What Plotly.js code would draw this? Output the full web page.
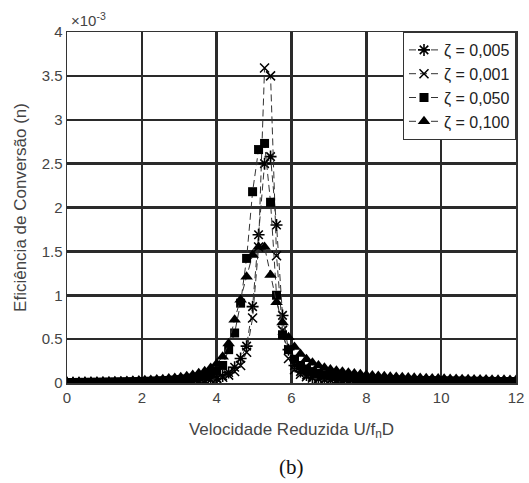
<!DOCTYPE html>
<html><head><meta charset="utf-8">
<script src="https://cdn.plot.ly/plotly-3.0.1.min.js"></script>
<style>html,body{margin:0;padding:0;background:#fff}#chart{width:529px;height:483px}</style>
</head><body><div id="chart"></div>
<script>
// Reduced velocity U/(fn D)
const xVals = [0,0.16,0.32,0.48,0.64,0.8,0.96,1.12,1.28,1.44,1.6,1.76,1.92,2.08,2.24,2.4,2.56,2.72,2.88,3.04,3.2,3.36,3.52,3.68,3.84,4,4.16,4.32,4.48,4.64,4.8,4.96,5.12,5.28,5.44,5.6,5.76,5.92,6.08,6.24,6.4,6.56,6.72,6.88,7.04,7.2,7.36,7.52,7.68,7.84,8,8.16,8.32,8.48,8.64,8.8,8.96,9.12,9.28,9.44,9.6,9.76,9.92,10.08,10.24,10.4,10.56,10.72,10.88,11.04,11.2,11.36,11.52,11.68,11.84,12];

// Efficiency values in units of 1e-3
const eta005 = [0.002,0.002,0.002,0.002,0.003,0.003,0.003,0.003,0.004,0.004,0.004,0.005,0.005,0.006,0.007,0.008,0.009,0.01,0.012,0.014,0.017,0.02,0.025,0.031,0.04,0.053,0.08,0.12,0.18,0.28,0.42,0.87,1.69,2.5,2.58,1.8,0.77,0.38,0.2,0.13,0.09,0.067,0.052,0.042,0.035,0.03,0.026,0.022,0.02,0.018,0.016,0.015,0.014,0.013,0.012,0.012,0.011,0.011,0.01,0.01,0.009,0.009,0.009,0.008,0.008,0.008,0.008,0.007,0.007,0.007,0.007,0.007,0.006,0.006,0.006,0.006];
const eta001 = [0.001,0.001,0.001,0.002,0.002,0.002,0.002,0.003,0.003,0.003,0.004,0.004,0.005,0.005,0.006,0.007,0.008,0.009,0.011,0.013,0.016,0.019,0.023,0.029,0.037,0.05,0.065,0.09,0.13,0.2,0.35,0.74,1.55,3.59,3.5,1.45,0.6,0.28,0.15,0.1,0.072,0.056,0.045,0.037,0.031,0.027,0.023,0.02,0.018,0.016,0.015,0.014,0.013,0.012,0.011,0.011,0.01,0.01,0.009,0.009,0.008,0.008,0.008,0.007,0.007,0.007,0.007,0.006,0.006,0.006,0.006,0.006,0.005,0.005,0.005,0.005];
const eta050 = [0.006,0.006,0.007,0.007,0.008,0.008,0.009,0.01,0.011,0.012,0.013,0.014,0.016,0.018,0.02,0.022,0.025,0.029,0.033,0.039,0.046,0.055,0.067,0.083,0.105,0.14,0.2,0.38,0.57,0.91,1.42,2.18,2.66,2.73,2.06,1.0,0.55,0.38,0.27,0.2,0.16,0.13,0.11,0.095,0.083,0.074,0.066,0.06,0.055,0.05,0.046,0.043,0.04,0.037,0.035,0.033,0.031,0.03,0.028,0.027,0.026,0.025,0.024,0.023,0.022,0.021,0.021,0.02,0.019,0.019,0.018,0.018,0.017,0.017,0.016,0.016];
const eta100 = [0.01,0.011,0.012,0.013,0.014,0.015,0.016,0.018,0.019,0.021,0.023,0.025,0.028,0.031,0.035,0.039,0.044,0.05,0.057,0.066,0.077,0.091,0.11,0.135,0.17,0.22,0.3,0.45,0.72,0.95,1.21,1.46,1.55,1.55,1.23,0.92,0.69,0.52,0.41,0.33,0.27,0.23,0.2,0.175,0.155,0.14,0.127,0.116,0.107,0.099,0.092,0.086,0.081,0.076,0.072,0.068,0.065,0.062,0.059,0.056,0.054,0.052,0.05,0.048,0.046,0.045,0.043,0.042,0.041,0.04,0.039,0.038,0.037,0.036,0.035,0.034];

const seriesNames = ['ζ = 0,005','ζ = 0,001','ζ = 0,050','ζ = 0,100'];
const yTickVals = [0,0.5,1,1.5,2,2.5,3,3.5,4];
const yTickText = ['0','0.5','1','1.5','2','2.5','3','3.5','4'];
const xTickVals = [0,2,4,6,8,10,12];

const lineStyle = {color:'#333', width:1, dash:'7px,4px'};
const traces = [
  {x:xVals, y:eta005, name:seriesNames[0], mode:'lines+markers', line:lineStyle,
   marker:{symbol:'asterisk-open', size:10, color:'#000', line:{color:'#000', width:1.6}}},
  {x:xVals, y:eta001, name:seriesNames[1], mode:'lines+markers', line:lineStyle,
   marker:{symbol:'x-thin-open', size:9, color:'#000', line:{color:'#000', width:1.5}}},
  {x:xVals, y:eta050, name:seriesNames[2], mode:'lines+markers', line:lineStyle,
   marker:{symbol:'square', size:9, color:'#000'}},
  {x:xVals, y:eta100, name:seriesNames[3], mode:'lines+markers', line:lineStyle,
   marker:{symbol:'triangle-up', size:11, color:'#000'}}
];

const layout = {
  width:529, height:483,
  margin:{l:67, r:13, t:32, b:100},
  paper_bgcolor:'#fff', plot_bgcolor:'#fff',
  font:{family:'Liberation Sans, Arial, sans-serif', size:15, color:'#333'},
  showlegend:true,
  legend:{x:1, xanchor:'right', y:1, yanchor:'top', bgcolor:'#fff', bordercolor:'#333', borderwidth:1,
    font:{size:16, color:'#222'}, tracegroupgap:0},
  xaxis:{range:[0,12], tickvals:xTickVals, ticks:'', showline:true, mirror:true, linecolor:'#333', linewidth:1.5,
    showgrid:true, gridcolor:'#2a2a2a', gridwidth:2.5, zeroline:false, tickfont:{size:15, color:'#444'},
    title:{text:'Velocidade Reduzida U/f<sub>n</sub>D', font:{size:17, color:'#444'}, standoff:18}},
  yaxis:{range:[0,4], tickvals:yTickVals, ticktext:yTickText, ticks:'', showline:true, mirror:true, linecolor:'#333', linewidth:1.5,
    showgrid:true, gridcolor:'#2a2a2a', gridwidth:2.5, zeroline:false, tickfont:{size:15, color:'#444'},
    title:{text:'Eficiência de Conversão (n)', font:{size:17, color:'#444'}, standoff:10}},
  annotations:[
    {xref:'paper', yref:'paper', x:0, y:1, xanchor:'left', yanchor:'bottom', yshift:1, xshift:2,
     text:'×10<sup>-3</sup>', showarrow:false, font:{size:15, color:'#444'}},
    {xref:'paper', yref:'paper', x:0.5, y:0, xanchor:'center', yanchor:'top', yshift:-70,
     text:'(b)', showarrow:false, font:{family:'Liberation Serif, Times New Roman, serif', size:21, color:'#111'}}
  ]
};
Plotly.newPlot('chart', traces, layout, {displayModeBar:false, staticPlot:true});
</script>
</body></html>
